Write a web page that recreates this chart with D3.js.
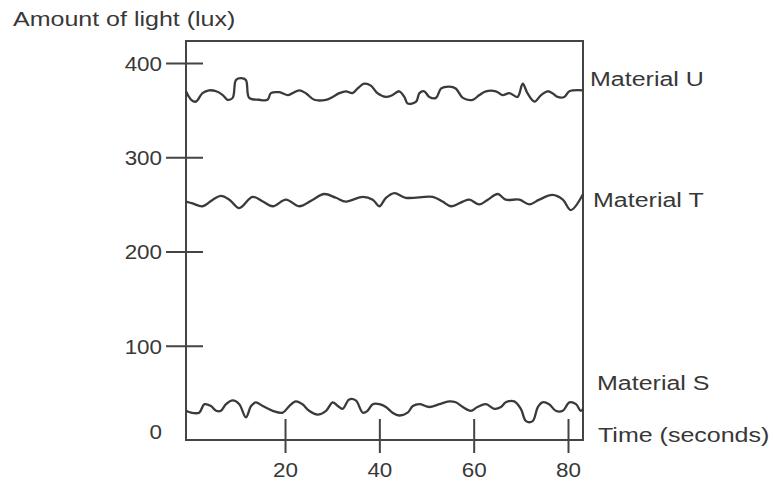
<!DOCTYPE html>
<html>
<head>
<meta charset="utf-8">
<script src="https://cdnjs.cloudflare.com/ajax/libs/d3/7.8.5/d3.min.js"></script>
<style>
    body { margin: 0; background: #fff; }
    text { font-family: "Liberation Sans", Arial, sans-serif; font-size: 20px; fill: #383838; }
</style>
</head>
<body>
<div id="chart"></div>
<script>
// ticks
const yTicks = [0, 100, 200, 300, 400];
const xTicks = [20, 40, 60, 80];

const yTitle = "Amount of light (lux)";
const xTitle = "Time (seconds)";
const seriesNames = ["Material U", "Material T", "Material S"];

// [time (s), lux]
const materialU = [
    [-1.0, 370], [0.1, 361], [1.1, 359], [2.5, 368], [3.9, 371], [5.4, 370], [6.8, 366], [7.8, 361],
    [8.9, 363], [9.6, 382], [10.7, 384], [11.7, 382], [12.4, 363], [14.5, 361], [16.3, 361], [17.0, 368],
    [18.8, 369], [20.6, 366], [21.6, 368], [23.0, 371], [24.4, 368], [26.2, 361], [28.7, 361], [30.1, 364],
    [31.5, 368], [32.9, 370], [34.3, 368], [35.4, 373], [36.8, 378], [38.2, 376], [39.6, 368], [41.4, 364],
    [42.8, 366], [44.2, 370], [45.3, 364], [46.0, 357], [47.8, 359], [48.5, 368], [49.5, 370], [50.6, 364],
    [52.0, 363], [53.1, 373], [54.8, 375], [56.2, 373], [57.7, 363], [59.8, 361], [61.2, 366], [62.6, 370],
    [64.7, 370], [66.1, 366], [67.6, 368], [69.3, 364], [70.4, 378], [71.4, 368], [72.9, 359], [74.3, 366],
    [75.7, 370], [76.7, 368], [77.8, 364], [79.2, 364], [80.3, 370], [83.2, 371]
];

const materialT = [
    [-1.0, 253], [0.4, 251], [2.5, 248], [4.7, 255], [6.4, 259], [8.2, 255], [10.3, 246], [13.1, 258],
    [15.3, 253], [17.4, 248], [20.2, 255], [23.0, 248], [25.9, 255], [28.3, 261], [30.8, 257], [32.9, 253],
    [36.5, 258], [38.6, 255], [40.0, 248], [41.4, 257], [43.2, 262], [45.6, 257], [51.3, 258], [53.4, 253],
    [55.2, 248], [57.7, 253], [59.1, 255], [61.2, 250], [63.0, 255], [65.1, 261], [66.8, 255], [69.7, 255],
    [71.8, 250], [73.9, 255], [76.7, 260], [78.9, 255], [80.6, 244], [83.2, 261]
];

const materialS = [
    [-1.0, 31], [0.1, 29], [1.8, 29], [2.9, 38], [4.3, 36], [5.4, 31], [6.4, 31], [7.5, 38],
    [8.9, 42], [10.3, 38], [11.7, 24], [12.8, 36], [13.8, 40], [15.3, 36], [17.4, 31], [19.5, 29],
    [20.9, 36], [22.3, 41], [23.7, 38], [25.1, 31], [26.9, 27], [28.7, 31], [30.1, 40], [31.2, 36],
    [32.2, 33], [33.6, 43], [35.0, 42], [36.5, 29], [37.5, 31], [38.6, 38], [40.0, 38], [41.4, 35],
    [42.8, 29], [44.2, 26], [46.0, 29], [47.1, 36], [48.5, 38], [50.6, 35], [52.7, 38], [54.8, 41],
    [56.2, 40], [57.7, 35], [59.4, 31], [60.8, 35], [62.6, 38], [64.4, 33], [65.8, 35], [66.8, 40],
    [68.6, 41], [70.0, 33], [71.1, 20], [72.5, 20], [73.6, 35], [74.6, 40], [76.0, 38], [77.4, 31],
    [78.9, 31], [80.3, 40], [81.7, 38], [82.7, 31], [83.2, 33]
];

function stretch(sel, factor) {
    sel.each(function () {
        const len = this.getComputedTextLength();
        d3.select(this)
            .attr("textLength", len * factor)
            .attr("lengthAdjust", "spacingAndGlyphs");
    });
}

function init() {
    const w = 773;
    const h = 482;

    const frameLeft = 186;
    const frameRight = 583;
    const frameTop = 41;
    const frameBottom = 440;

    const xScale = d3.scaleLinear()
        .domain([0, 80])
        .range([190.7, 568]);

    const yScale = d3.scaleLinear()
        .domain([0, 400])
        .range([frameBottom, 63]);

    const svg = d3.select("#chart")
        .append("svg")
        .attr("width", w)
        .attr("height", h);

    svg.append("rect")
        .attr("width", w)
        .attr("height", h)
        .attr("fill", "#fff");

    // plot frame
    svg.append("rect")
        .attr("x", frameLeft)
        .attr("y", frameTop)
        .attr("width", frameRight - frameLeft)
        .attr("height", frameBottom - frameTop)
        .attr("fill", "none")
        .attr("stroke", "#444")
        .attr("stroke-width", 2);

    const yAxis = d3.axisLeft(yScale)
        .tickValues(yTicks)
        .tickSize(-17)
        .tickPadding(24);

    const gy = svg.append("g")
        .attr("transform", "translate(" + frameLeft + ",0)")
        .call(yAxis);
    gy.select(".domain").remove();
    gy.selectAll(".tick line")
        .attr("x1", -20)
        .attr("stroke", "#444")
        .attr("stroke-width", 2)
        .filter(function (d) { return d === 0; })
        .remove();
    gy.selectAll(".tick text")
        .attr("fill", "#383838")
        .attr("font-size", null)
        .attr("font-family", null)
        .attr("y", function (d) { return d === 0 ? -8 : 1; });

    const xAxis = d3.axisBottom(xScale)
        .tickValues(xTicks)
        .tickSize(13);

    const gx = svg.append("g")
        .attr("transform", "translate(0," + frameBottom + ")")
        .call(xAxis);
    gx.select(".domain").remove();
    gx.selectAll(".tick line")
        .attr("y1", -21)
        .attr("stroke", "#444")
        .attr("stroke-width", 2);
    gx.selectAll(".tick text")
        .attr("fill", "#383838")
        .attr("font-size", null)
        .attr("font-family", null)
        .attr("y", 23);

    const line = d3.line()
        .x(function (d) { return xScale(d[0]); })
        .y(function (d) { return yScale(d[1]); })
        .curve(d3.curveCatmullRom.alpha(0.5));

    [materialU, materialT, materialS].forEach(function (s) {
        svg.append("path")
            .datum(s)
            .attr("d", line)
            .attr("fill", "none")
            .attr("stroke", "#3a3a3a")
            .attr("stroke-width", 2.3)
            .attr("stroke-linejoin", "round");
    });

    // titles and series labels
    const labels = [
        { text: yTitle, x: 13, y: 19 },
        { text: seriesNames[0], x: 590, y: 79 },
        { text: seriesNames[1], x: 593, y: 200 },
        { text: seriesNames[2], x: 597, y: 383 },
        { text: xTitle, x: 598, y: 435 }
    ];

    const label = svg.selectAll(".label")
        .data(labels)
        .enter()
        .append("text")
        .attr("class", "label")
        .attr("x", function (d) { return d.x; })
        .attr("y", function (d) { return d.y; })
        .attr("dy", "0.35em")
        .text(function (d) { return d.text; });

    // the scanned lettering is wider than the font
    stretch(label, 1.25);
    stretch(svg.selectAll(".tick text"), 1.12);
}

window.onload = init;
</script>
</body>
</html>
